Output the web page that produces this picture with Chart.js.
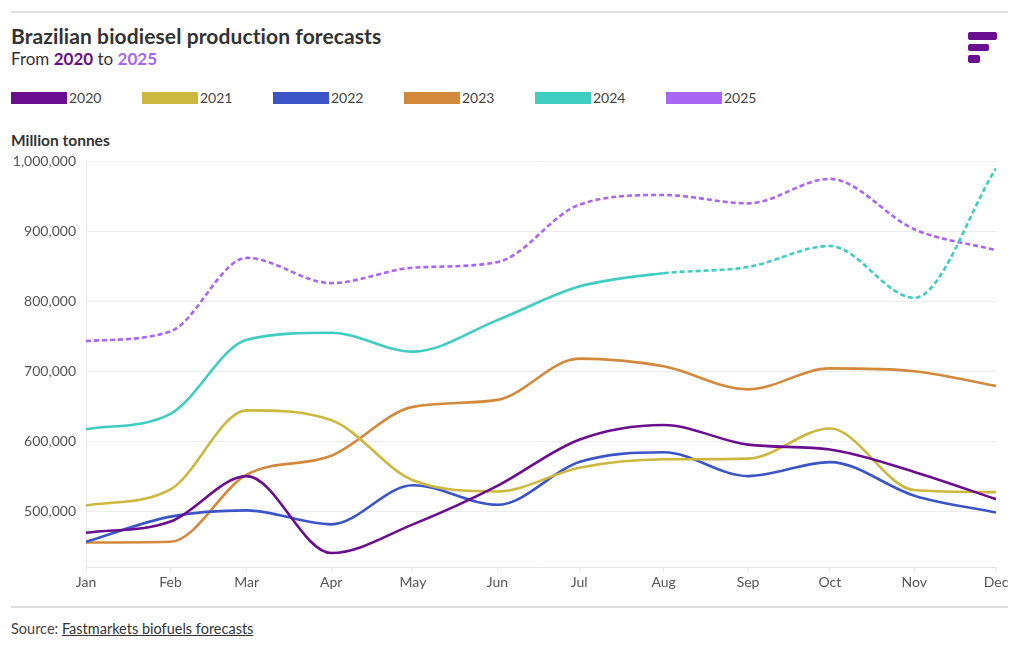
<!DOCTYPE html>
<html><head><meta charset="utf-8">
<script src="https://cdn.jsdelivr.net/npm/chart.js@4/dist/chart.umd.min.js"></script>
<style>
body{margin:0;width:1020px;height:650px;background:#fff;font-family:Lato,"Open Sans",sans-serif;color:#333;position:relative;overflow:hidden}
.rule{position:absolute;left:11px;width:997px;height:2px;background:#ddd}
#title{position:absolute;left:11px;top:23px;font-size:21px;font-weight:700;color:#333;letter-spacing:0.1px}
#sub{position:absolute;left:11px;top:48px;font-size:17px;color:#333}
#legend{position:absolute;left:11px;top:89px;height:18px}
.li{position:absolute;top:0;height:18px;font-size:14px;color:#444;white-space:nowrap}
.sw{position:absolute;left:0;top:3px;width:56px;height:12px}
.lt{position:absolute;left:58px;top:0;line-height:18px}
#unit{position:absolute;left:11px;top:131px;font-size:15.5px;font-weight:700;color:#333}
#wrap{position:absolute;left:0;top:143px;width:1020px;height:457px}
#src{position:absolute;left:11px;top:620px;font-size:14.5px;color:#444}
#src u{color:#333}
.logo{position:absolute;background:#6a0d91;border-radius:2px}
</style></head>
<body>
<div class="rule" style="top:11px"></div>
<div id="title">Brazilian biodiesel production forecasts</div>
<div id="sub">From <b style="color:#6a0d8f">2020</b> to <b style="color:#a966f5">2025</b></div>
<div class="logo" style="left:968px;top:32px;width:29px;height:8px"></div>
<div class="logo" style="left:968px;top:44px;width:21px;height:7px"></div>
<div class="logo" style="left:968px;top:55px;width:12px;height:8px"></div>
<div id="legend"></div>
<div id="unit">Million tonnes</div>
<div id="wrap"><canvas id="c" width="1020" height="457"></canvas></div>
<div class="rule" style="top:606px"></div>
<div id="src">Source: <u>Fastmarkets biofuels forecasts</u></div>
<script>
const months = ["Jan","Feb","Mar","Apr","May","Jun","Jul","Aug","Sep","Oct","Nov","Dec"];
const monthDay = [0,31,59,90,120,151,181,212,243,273,304,334];
const yTicks = [500000,600000,700000,800000,900000,1000000];
const seriesNames = ["2020","2021","2022","2023","2024","2025"];
const seriesColors = ["#6a0d8f","#cdb83f","#3b55c9","#d3893c","#3ecdc0","#a966f5"];
const v2020 = [469000,485000,550000,440000,481000,536000,602000,623000,595000,588000,556000,517000];
const v2021 = [508000,531000,644000,630000,544000,528000,562000,574000,575000,618000,530000,527000];
const v2022 = [456000,492000,501000,481000,537000,509000,570000,584000,550000,570000,522000,498000];
const v2023 = [455000,456000,552000,579000,649000,659000,718000,707000,674000,704000,700000,679000];
const v2024 = [617000,639000,745000,755000,728000,773000,821000,840000,849000,879000,805000,990000];
const v2025 = [743000,757000,862000,826000,848000,856000,938000,952000,940000,975000,903000,873000];
const allValues = [v2020,v2021,v2022,v2023,v2024,v2025];
// index from which a series is a forecast (dashed)
const dashFrom = [99,99,99,99,7,0];

const leg = document.getElementById('legend');
seriesNames.forEach((n,i)=>{
  const d=document.createElement('div');d.className='li';d.style.left=(i*131)+'px';
  d.innerHTML='<span class="sw" style="background:'+seriesColors[i]+'"></span><span class="lt">'+n+'</span>';
  leg.appendChild(d);
});

const datasets = allValues.map((vals,i)=>({
  label: seriesNames[i],
  data: vals.map((v,j)=>({x:monthDay[j],y:v})),
  borderColor: seriesColors[i],
  backgroundColor: seriesColors[i],
  borderWidth: 2.6,
  pointRadius: 0,
  pointHoverRadius: 0,
  cubicInterpolationMode: 'monotone',
  fill: false,
  segment: { borderDash: ctx => ctx.p0DataIndex >= dashFrom[i] ? [5,3] : undefined }
}));

new Chart(document.getElementById('c'), {
  type: 'line',
  data: { datasets },
  options: {
    responsive: false,
    animation: false,
    layout: { padding: { top: 4, right: 24, bottom: 0, left: 0 } },
    plugins: { legend: { display: false }, tooltip: { enabled: false } },
    scales: {
      x: {
        type: 'linear', min: 0, max: 334,
        afterBuildTicks: s => { s.ticks = monthDay.map(v=>({value:v})); },
        afterFit: s => { s.height = 33; },
        ticks: { autoSkip:false, maxRotation:0, padding: 2,
          callback: (v,idx) => months[idx],
          color:'#555', font:{ family:'Lato', size:14 } },
        grid: { drawOnChartArea:false, drawTicks:true, tickLength:5, color:'#e6e6e6' },
        border: { display:true, color:'#e6e6e6', width:1 }
      },
      y: {
        min: 420000, max: 1000000,
        afterBuildTicks: s => { s.ticks = yTicks.map(v=>({value:v})); },
        afterFit: s => { s.width = 86; },
        ticks: { padding: 10, color:'#555', font:{ family:'Lato', size:14 },
          callback: v => v.toLocaleString('en-US') },
        grid: { color:'#ececec', drawTicks:false },
        border: { display:true, color:'#e6e6e6', width:1 }
      }
    }
  }
});
</script>
</body></html>
